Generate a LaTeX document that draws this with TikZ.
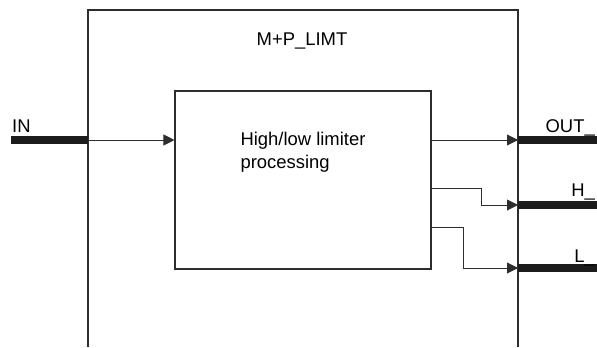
\documentclass[tikz,border=0pt]{standalone}
\usepackage{fontspec}
\setmainfont{Liberation Sans}
\usepackage{tikz}
\usetikzlibrary{arrows.meta,positioning,calc}
\definecolor{linegrey}{RGB}{45,45,45}
\definecolor{busblack}{RGB}{28,28,28}
\tikzset{
  frame/.style={draw=linegrey,line width=1.2bp},
  blk/.style={draw=linegrey,line width=1.1bp,fill=white,
              minimum width=256bp,minimum height=178bp,inner sep=0pt},
  sig/.style={-{Triangle[length=11bp,width=11bp]},line width=0.9bp,draw=linegrey},
  bus/.style={line width=8bp,draw=busblack},
  txt/.style={font=\fontsize{18.5}{23}\selectfont,inner sep=0pt,align=left},
}

\begin{document}
\begin{tikzpicture}[x=1bp,y=-1bp]
  \useasboundingbox (0,0) rectangle (597,347);

  % outer block, open at the bottom
  \draw[frame] (88,347) -- (88,10) -- (518,10) -- (518,347);
  \node[txt,anchor=base] (title) at (302,45) {M+P\_LIMT};

  \node[blk] (proc) at (303,180) {};
  \node[txt,anchor=north] (proctxt) at (303,132) {High/low limiter\\processing};

  % pins
  \coordinate (inend)  at (11,140);
  \coordinate (inpin)  at (88,140);
  \coordinate (outpin) at (518,140);
  \coordinate (hpin)   at (518,205);
  \coordinate (lpin)   at (518,268);
  \coordinate (outend) at (597,140);
  \coordinate (hend)   at (597,205);
  \coordinate (lend)   at (597,268);

  \draw[bus] (inend) -- (inpin);
  \draw[bus] (outpin) -- (outend);
  \draw[bus] (hpin) -- (hend);
  \draw[bus] (lpin) -- (lend);

  \node[txt,anchor=base west] (inlbl)  at (12,132)  {IN};
  \node[txt,anchor=base east] (outlbl) at (595,132) {OUT\_};
  \node[txt,anchor=base east] (hlbl)   at (595,196) {H\_};
  \node[txt,anchor=base east] (llbl)   at (595,262) {L\_};

  % signal paths
  \draw[sig] (inpin) -- (inpin -| proc.west);
  \draw[sig] (outpin -| proc.east) -- (outpin);
  \draw[sig] (proc.east |- 0,188) -- (481,188) |- (hpin);
  \draw[sig] (proc.east |- 0,227) -- (463,227) |- (lpin);
\end{tikzpicture}
\end{document}
